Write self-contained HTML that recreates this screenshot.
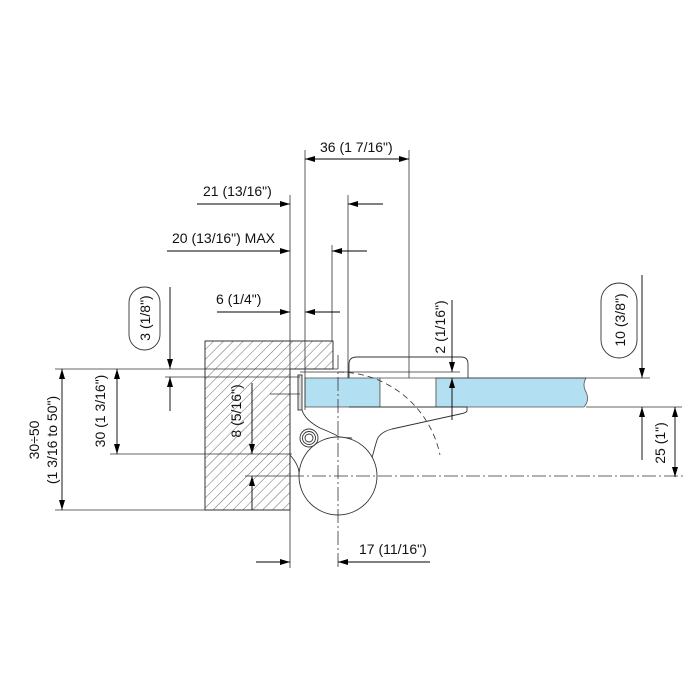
<!DOCTYPE html>
<html><head><meta charset="utf-8"><style>
html,body{margin:0;padding:0;background:#fff}
svg{display:block}
text{font-family:"Liberation Sans",sans-serif;font-size:14px;fill:#111}
</style></head><body>
<svg width="700" height="700" viewBox="0 0 700 700" xmlns="http://www.w3.org/2000/svg">
<defs>
<pattern id="h" patternUnits="userSpaceOnUse" width="7" height="7" patternTransform="rotate(45)">
<line x1="0" y1="0" x2="0" y2="7" stroke="#444" stroke-width="0.8"/>
</pattern>
<marker id="a" viewBox="0 0 10 6" refX="10" refY="3" markerWidth="16" markerHeight="6" orient="auto" markerUnits="userSpaceOnUse">
<path d="M0,0 L10,3 L0,6 z" fill="#000"/>
</marker>
</defs>
<path d="M205,341 H333 V369 H290 V510 H205 Z" fill="url(#h)" stroke="#333" stroke-width="1"/>
<rect x="305" y="378" width="75" height="29" fill="#b3dff2" stroke="#555" stroke-width="0.8"/>
<rect x="380" y="378" width="56" height="29" fill="#fff" stroke="#555" stroke-width="0.8"/>
<path d="M436,378 H586 Q582,385 586,392 Q590,400 584,407 H436 Z" fill="#b3dff2" stroke="#555" stroke-width="0.8"/>
<g stroke="#333" stroke-width="0.9" fill="none">
<rect x="298" y="375" width="4" height="35" fill="#ddd"/>
<path d="M349,378 V364 Q349,357 357,357 H461 Q468,357 468,364 V378"/>
<path d="M349,407 H467 V411 Q466,413 460,414 L392,429 Q380,432 377,440 Q374,450 372,458"/>
<path d="M302,410 Q305,420 320,428 Q335,434 345,440"/>
<path d="M318,447 Q330,436 352,438"/>
<circle cx="338" cy="476" r="39" fill="#fff"/>
<circle cx="309" cy="438" r="9"/>
<circle cx="309" cy="438" r="6.5"/>
<circle cx="309" cy="438" r="4"/>
<path d="M290,455 Q300,466 299,476"/>
</g>
<path d="M338,372 A104,104 0 0 1 440,455" fill="none" stroke="#333" stroke-width="0.8" stroke-dasharray="6,4"/>
<g stroke="#333" stroke-width="0.8" fill="none">
<line x1="290" y1="195" x2="290" y2="568"/>
<line x1="305" y1="150" x2="305" y2="410"/>
<line x1="332" y1="245" x2="332" y2="341"/>
<line x1="348" y1="195" x2="348" y2="378"/>
<line x1="409" y1="150" x2="409" y2="378"/>
<line x1="338" y1="355" x2="338" y2="568" stroke-dasharray="14,3,2,3"/>
<line x1="55" y1="369" x2="338" y2="369"/>
<line x1="165" y1="377" x2="300" y2="377"/>
<line x1="300" y1="372" x2="460" y2="372"/>
<line x1="110" y1="454" x2="292" y2="454"/>
<line x1="245" y1="476" x2="290" y2="476"/>
<line x1="290" y1="476" x2="683" y2="476" stroke-dasharray="14,3,2,3"/>
<line x1="55" y1="510" x2="290" y2="510"/>
<line x1="436" y1="378" x2="650" y2="378"/>
<line x1="586" y1="407" x2="682" y2="407"/>
<line x1="270" y1="394" x2="300" y2="394"/>
</g>
<g stroke="#000" stroke-width="0.9" fill="none">
<line x1="357" y1="159" x2="305" y2="159" marker-end="url(#a)"/>
<line x1="357" y1="159" x2="409" y2="159" marker-end="url(#a)"/>
<line x1="197" y1="204" x2="290" y2="204" marker-end="url(#a)"/>
<line x1="383" y1="204" x2="348" y2="204" marker-end="url(#a)"/>
<line x1="167" y1="251" x2="290" y2="251" marker-end="url(#a)"/>
<line x1="367" y1="251" x2="332" y2="251" marker-end="url(#a)"/>
<line x1="217" y1="312" x2="290" y2="312" marker-end="url(#a)"/>
<line x1="340" y1="312" x2="305" y2="312" marker-end="url(#a)"/>
<line x1="256" y1="562" x2="290" y2="562" marker-end="url(#a)"/>
<line x1="430" y1="562" x2="338" y2="562" marker-end="url(#a)"/>
<line x1="62" y1="440" x2="62" y2="369" marker-end="url(#a)"/>
<line x1="62" y1="440" x2="62" y2="510" marker-end="url(#a)"/>
<line x1="117" y1="410" x2="117" y2="369" marker-end="url(#a)"/>
<line x1="117" y1="410" x2="117" y2="454" marker-end="url(#a)"/>
<line x1="170" y1="287" x2="170" y2="369" marker-end="url(#a)"/>
<line x1="170" y1="411" x2="170" y2="377" marker-end="url(#a)"/>
<line x1="252" y1="383" x2="252" y2="454" marker-end="url(#a)"/>
<line x1="252" y1="510" x2="252" y2="476" marker-end="url(#a)"/>
<line x1="452" y1="300" x2="452" y2="372" marker-end="url(#a)"/>
<line x1="452" y1="420" x2="452" y2="378" marker-end="url(#a)"/>
<line x1="642" y1="275" x2="642" y2="378" marker-end="url(#a)"/>
<line x1="642" y1="460" x2="642" y2="407" marker-end="url(#a)"/>
<line x1="675" y1="440" x2="675" y2="407" marker-end="url(#a)"/>
<line x1="675" y1="440" x2="675" y2="477" marker-end="url(#a)"/>
</g>
<rect x="129" y="287" width="31" height="63" rx="15.5" fill="#fff" stroke="#333" stroke-width="0.9"/>
<rect x="601" y="283" width="36" height="75" rx="18" fill="#fff" stroke="#333" stroke-width="0.9"/>
<text x="320" y="152">36 (1  7/16")</text>
<text x="203" y="196">21 (13/16")</text>
<text x="172" y="243">20 (13/16") MAX</text>
<text x="216" y="304">6 (1/4")</text>
<text x="359" y="554">17 (11/16")</text>
<text transform="translate(150,318) rotate(-90)" text-anchor="middle">3 (1/8")</text>
<text transform="translate(625,320) rotate(-90)" text-anchor="middle">10 (3/8")</text>
<text transform="translate(445,327) rotate(-90)" text-anchor="middle">2 (1/16")</text>
<text transform="translate(665,443) rotate(-90)" text-anchor="middle">25 (1")</text>
<text transform="translate(241,411) rotate(-90)" text-anchor="middle">8 (5/16")</text>
<text transform="translate(105,411) rotate(-90)" text-anchor="middle">30 (1  3/16")</text>
<text transform="translate(39,440) rotate(-90)" text-anchor="middle">30÷50</text>
<text transform="translate(57,440) rotate(-90)" text-anchor="middle">(1  3/16 to 50")</text>
</svg>
</body></html>
